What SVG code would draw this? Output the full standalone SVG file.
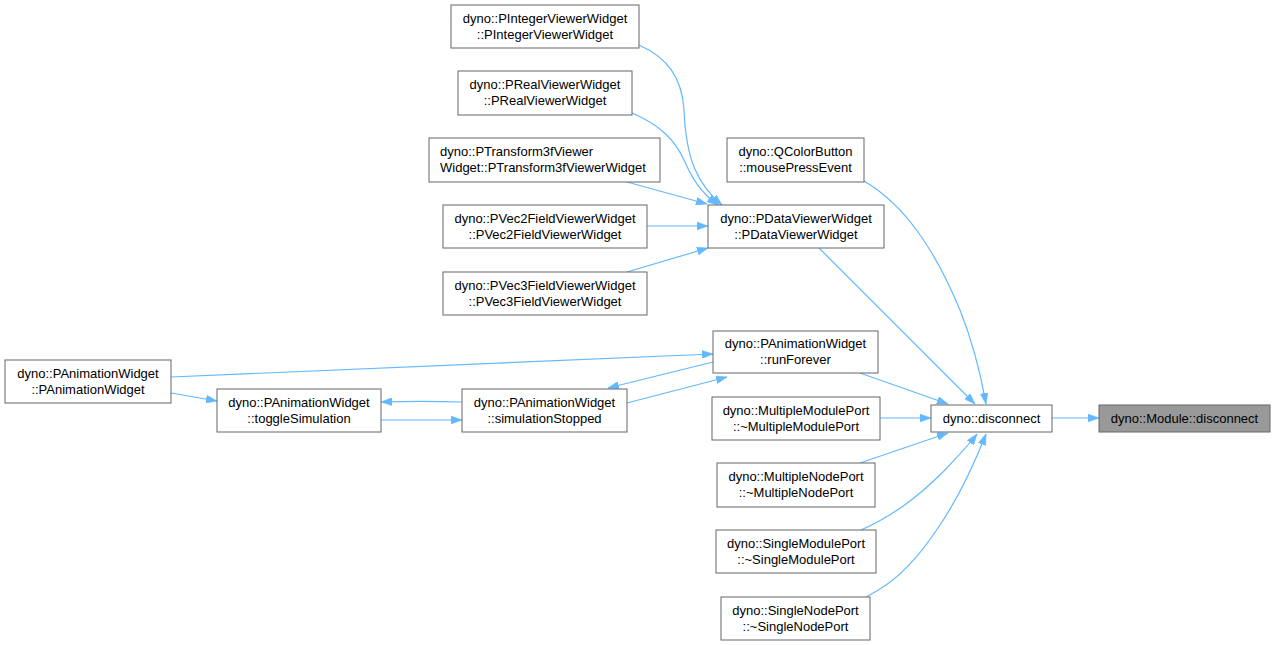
<svg xmlns="http://www.w3.org/2000/svg" width="1276" height="645" viewBox="0 0 1276 645">
<style>
.node rect{fill:#ffffff;stroke:#666666;stroke-width:1}
.node text{font-family:"Liberation Sans",Arial,sans-serif;font-size:13px;fill:#000000;text-anchor:middle}
.node.cur rect{fill:#999999}
.edges path{fill:none;stroke:#63b8ff;stroke-width:1.2;marker-end:url(#arr)}
</style>
<defs>
<marker id="arr" viewBox="0 0 11 8" refX="11" refY="4" markerWidth="11" markerHeight="8" markerUnits="userSpaceOnUse" orient="auto">
<polygon points="0,0 11,4 0,8" fill="#63b8ff" stroke="#63b8ff" stroke-width="0.5"/>
</marker>
</defs>
<rect width="1276" height="645" fill="#ffffff"/>
<g class="edges" id="connectors">
<path d="M1052,418 L1099,418"/>
<path d="M819,248 L975,404"/>
<path d="M864,181 C905,205 935,250 960,310 C972,340 980,370 986,404"/>
<path d="M860,373 L948,404"/>
<path d="M880,418 L931,418"/>
<path d="M860,463 L948,433"/>
<path d="M861,530 C895,515 920,495 945,470 C958,456 968,446 977,434"/>
<path d="M866,597 C900,580 920,555 940,525 C960,495 975,462 986,434"/>
<path d="M639,45 C668,58 682,78 684,110 C686,160 698,185 722,205"/>
<path d="M632,113 C660,125 675,140 684,160 C692,178 700,192 718,205"/>
<path d="M627,182 L707,204"/>
<path d="M647,226 L708,226"/>
<path d="M627,272 L708,248"/>
<path d="M171,377 L713,354"/>
<path d="M171,393 L217,401"/>
<path d="M381,420 L462,420"/>
<path d="M462,402 C430,401 410,401 381,402"/>
<path d="M627,403 L727,377"/>
<path d="M713,362 L608,388"/>
</g>
<g class="node" id="n1"><rect x="451" y="5" width="188" height="43"/><text x="545" y="22.5">dyno::PIntegerViewerWidget</text><text x="545" y="38.5">::PIntegerViewerWidget</text></g>
<g class="node" id="n2"><rect x="458" y="71" width="174" height="44"/><text x="545" y="88.5">dyno::PRealViewerWidget</text><text x="545" y="104.5">::PRealViewerWidget</text></g>
<g class="node" id="n3"><rect x="429" y="138" width="231" height="44"/><text x="440" y="155.5" style="text-anchor:start">dyno::PTransform3fViewer</text><text x="440" y="171.5" style="text-anchor:start">Widget::PTransform3fViewerWidget</text></g>
<g class="node" id="n4"><rect x="443" y="205" width="204" height="43"/><text x="545" y="222.5">dyno::PVec2FieldViewerWidget</text><text x="545" y="238.5">::PVec2FieldViewerWidget</text></g>
<g class="node" id="n5"><rect x="443" y="272" width="204" height="43"/><text x="545" y="289.5">dyno::PVec3FieldViewerWidget</text><text x="545" y="305.5">::PVec3FieldViewerWidget</text></g>
<g class="node" id="n6"><rect x="708" y="205" width="176" height="43"/><text x="796" y="222.5">dyno::PDataViewerWidget</text><text x="796" y="238.5">::PDataViewerWidget</text></g>
<g class="node" id="n7"><rect x="727" y="138" width="137" height="44"/><text x="795.5" y="155.5">dyno::QColorButton</text><text x="795.5" y="171.5">::mousePressEvent</text></g>
<g class="node" id="n8"><rect x="5" y="360" width="166" height="43"/><text x="88" y="377.5">dyno::PAnimationWidget</text><text x="88" y="393.5">::PAnimationWidget</text></g>
<g class="node" id="n9"><rect x="217" y="389" width="164" height="43"/><text x="299" y="406.5">dyno::PAnimationWidget</text><text x="299" y="422.5">::toggleSimulation</text></g>
<g class="node" id="n10"><rect x="462" y="389" width="165" height="43"/><text x="544.5" y="406.5">dyno::PAnimationWidget</text><text x="544.5" y="422.5">::simulationStopped</text></g>
<g class="node" id="n11"><rect x="713" y="331" width="165" height="42"/><text x="795.5" y="348">dyno::PAnimationWidget</text><text x="795.5" y="364">::runForever</text></g>
<g class="node" id="n12"><rect x="712" y="397" width="168" height="43"/><text x="796" y="414.5">dyno::MultipleModulePort</text><text x="796" y="430.5">::~MultipleModulePort</text></g>
<g class="node" id="n13"><rect x="931" y="405" width="121" height="27"/><text x="991.5" y="423">dyno::disconnect</text></g>
<g class="node cur" id="n14"><rect x="1099" y="405" width="171" height="27"/><text x="1184.5" y="423">dyno::Module::disconnect</text></g>
<g class="node" id="n15"><rect x="717" y="463" width="158" height="44"/><text x="796" y="480.5">dyno::MultipleNodePort</text><text x="796" y="496.5">::~MultipleNodePort</text></g>
<g class="node" id="n16"><rect x="716" y="530" width="160" height="43"/><text x="796" y="547.5">dyno::SingleModulePort</text><text x="796" y="563.5">::~SingleModulePort</text></g>
<g class="node" id="n17"><rect x="721" y="597" width="149" height="43"/><text x="795.5" y="614.5">dyno::SingleNodePort</text><text x="795.5" y="630.5">::~SingleNodePort</text></g>
</svg>
